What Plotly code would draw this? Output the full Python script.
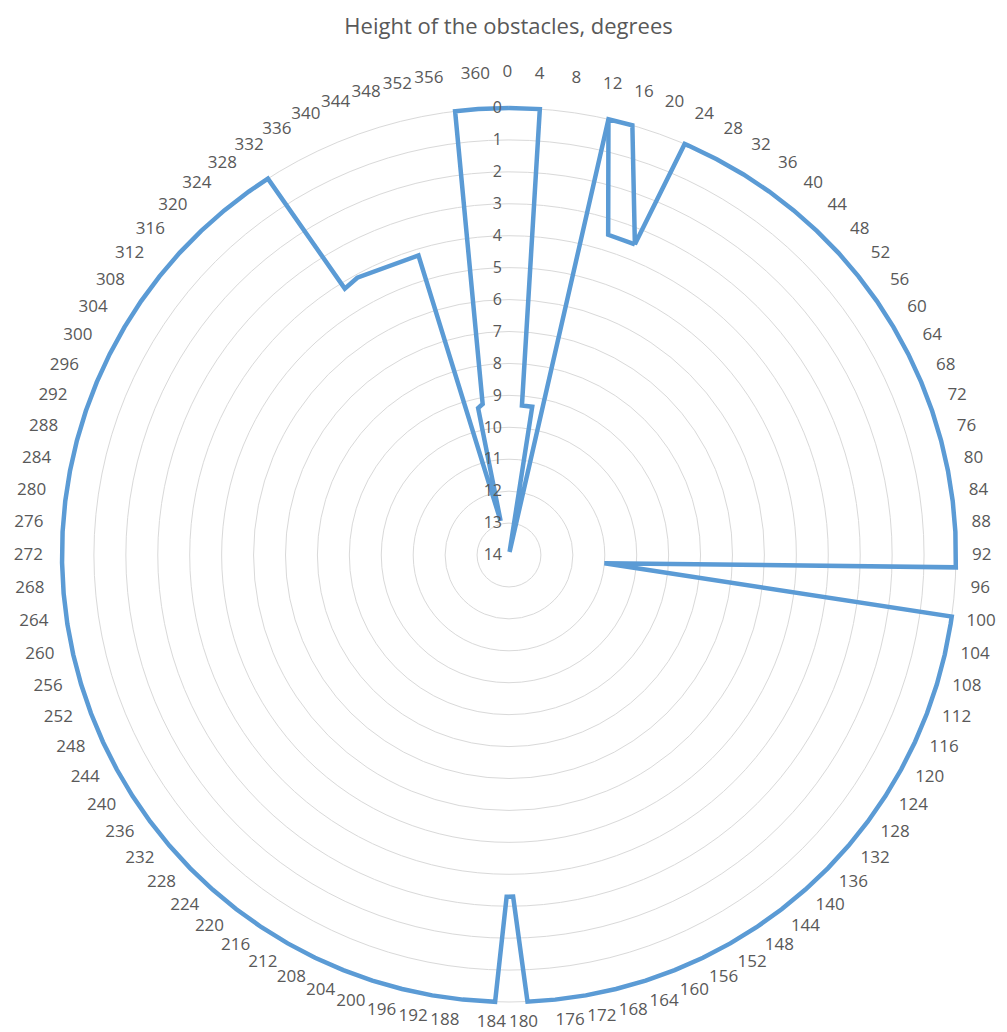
import plotly.graph_objects as go

# ---- data -------------------------------------------------------------
TITLE = "Height of the obstacles, degrees"

# 91 azimuth categories (0, 4, ..., 360) spaced evenly round the circle
N_CATEGORIES = 91
CATEGORY_STEP = 4
CATEGORY_LABELS = [str(CATEGORY_STEP * k) for k in range(N_CATEGORIES)]

# obstacle profile: azimuth (deg) and height of the obstacles (deg)
AZIMUTH = [
    0, 4, 5, 9, 11, 13, 16.2, 22.3, 23.4,
    24, 28, 32, 36, 40, 44, 48, 52, 56, 60, 64, 68, 72, 76, 80, 84, 88,
    92.6, 96, 99,
    100, 104, 108, 112, 116, 120, 124, 128, 132, 136, 140, 144, 148, 152,
    156, 160, 164, 168, 172, 176,
    179.6, 181.3, 182.4, 183.8,
    188, 192, 196, 200, 204, 208, 212, 216, 220, 224, 228, 232, 236, 240,
    244, 248, 252, 256, 260, 264, 268, 272, 276, 280, 284, 288, 292, 296,
    300, 304, 308, 312, 316, 320, 324, 328,
    331, 332, 335, 347, 350, 352, 354, 357, 360,
]
HEIGHT = [
    0, 0, 9.3, 9.3, 13.9, 0, 0, 3.5, 0,
    0, 0, 0, 0, 0, 0, 0, 0, 0, 0, 0, 0, 0, 0, 0, 0, 0,
    0, 11.0, 0,
    0, 0, 0, 0, 0, 0, 0, 0, 0, 0, 0, 0, 0, 0,
    0, 0, 0, 0, 0, 0,
    0, 3.3, 3.3, 0,
    0, 0, 0, 0, 0, 0, 0, 0, 0, 0, 0, 0, 0, 0,
    0, 0, 0, 0, 0, 0, 0, 0, 0, 0, 0, 0, 0, 0,
    0, 0, 0, 0, 0, 0, 0, 0,
    0, 4.2, 4.1, 4.2, 12.9, 9.3, 9.2, 0, 0,
]

# second (short) outline drawn in the same colour around 13-22
AZIMUTH_2 = [13, 17.4, 22.3]
HEIGHT_2 = [0, 3.5, 3.5]

RADIAL_TICKS = list(range(0, 15))

# ---- figure -----------------------------------------------------------
FULL_TURN = N_CATEGORIES * CATEGORY_STEP          # azimuth units per revolution
to_angle = lambda a: a * 360.0 / FULL_TURN

LINE = dict(color="#5B9BD5", width=4.5)
GRID = "#D9D9D9"
TXT = "#595959"

fig = go.Figure()
fig.add_trace(go.Scatterpolar(
    r=HEIGHT + [HEIGHT[0]],
    theta=[to_angle(a) for a in AZIMUTH] + [to_angle(AZIMUTH[0])],
    mode="lines", line=LINE, hoverinfo="skip", showlegend=False,
))
fig.add_trace(go.Scatterpolar(
    r=HEIGHT_2, theta=[to_angle(a) for a in AZIMUTH_2],
    mode="lines", line=LINE, hoverinfo="skip", showlegend=False,
))
# empty trace that carries the category-label ring (slightly raised, as in Excel)
fig.add_trace(go.Scatterpolar(r=[], theta=[], subplot="polar2",
                              hoverinfo="skip", showlegend=False))

angular_common = dict(
    type="linear", rotation=90, direction="clockwise",
    tickmode="array",
    tickvals=[to_angle(CATEGORY_STEP * k) for k in range(N_CATEGORIES)],
    ticktext=CATEGORY_LABELS,
    showgrid=False, showline=False,
)

fig.update_layout(
    width=1007, height=1032,
    margin=dict(l=0, r=0, t=0, b=0),
    paper_bgcolor="white", plot_bgcolor="white",
    font=dict(family="Open Sans", color=TXT),
    title=dict(text=TITLE, x=0.505, xanchor="center", y=0.975, yanchor="middle",
               yref="container", font=dict(size=22, color=TXT, family="Open Sans")),
    polar=dict(
        domain=dict(x=[0.0568, 0.9541], y=[0.0244, 0.9000]),
        bgcolor="white",
        angularaxis=dict(**angular_common, showticklabels=False, ticks=""),
        radialaxis=dict(
            range=[14, -0.15], tickmode="array", tickvals=RADIAL_TICKS,
            ticktext=[str(v) + "\u00a0" for v in RADIAL_TICKS],
            angle=90, tickangle=90, side="counterclockwise",
            showline=False, ticks="",
            gridcolor=GRID, gridwidth=1,
            tickfont=dict(size=16, color=TXT, family="Open Sans"),
        ),
    ),
    polar2=dict(
        domain=dict(x=[0.0553, 0.9526], y=[0.0336, 0.9092]),
        bgcolor="rgba(0,0,0,0)",
        angularaxis=dict(
            **angular_common,
            ticks="outside", ticklen=9, tickcolor="rgba(0,0,0,0)",
            tickfont=dict(size=17, color=TXT, family="Open Sans"),
        ),
        radialaxis=dict(range=[14, -0.15], visible=False),
    ),
)

fig.write_html("out.html", config={"displayModeBar": False},
               post_script="document.body.style.margin='0px';")
